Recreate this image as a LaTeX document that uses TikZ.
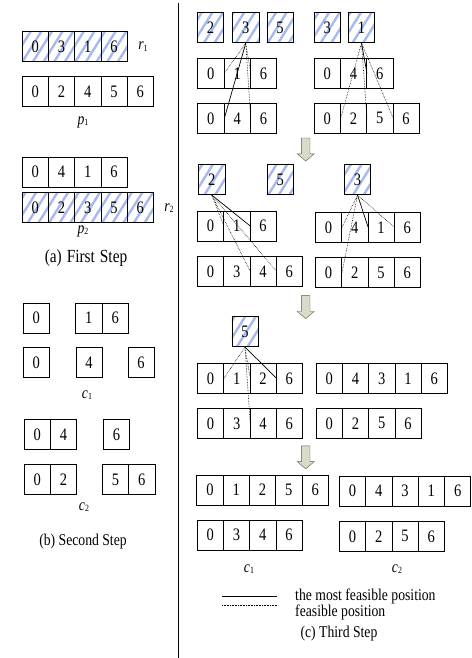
\documentclass[tikz,border=0pt]{standalone}
\usepackage{fontspec}
\setmainfont{Liberation Serif}[FakeStretch=0.83]
\usetikzlibrary{patterns.meta,shapes.arrows}
\definecolor{stripe}{RGB}{165,185,240}
\definecolor{arrowfill}{RGB}{216,220,198}
\definecolor{arrowline}{RGB}{90,95,75}
\newcommand{\lbl}[2]{\textit{#1}\raisebox{-0.2ex}{\fontsize{9.5}{9.5}\selectfont #2}}
\begin{document}
\begin{tikzpicture}[x=1pt,y=-1pt]
        \tikzstyle{cell} = [draw,line width=0.7pt,minimum width=26.3pt,minimum height=30pt,inner sep=0pt,font=\fontsize{17.5}{18}\selectfont]
        \tikzstyle{hatch} = [pattern={Lines[angle=58,distance=9pt,line width=2.4pt]},pattern color=stripe]
        \tikzstyle{best} = [line width=0.7pt]
        \tikzstyle{maybe} = [densely dotted,line width=0.6pt]
        \tikzstyle{down} = [single arrow,draw=arrowline,fill=arrowfill,shape border rotate=270,minimum height=23pt,inner sep=4.1pt,single arrow head extend=4.2pt,single arrow tip angle=100]
        \tikzstyle{txt} = [font=\fontsize{16.5}{18}\selectfont,inner sep=0pt]

        \useasboundingbox (0,0) rectangle (471,658);

        % (a) first step
        \foreach \v [count=\i] in {0,3,1,6} \node[cell,hatch] (ra-\i) at ({22+26.3*(\i-.5)},46.7) {\v};
        \foreach \v [count=\i] in {0,2,4,5,6} \node[cell] (pa-\i) at ({22+26.3*(\i-.5)},91.7) {\v};
        \foreach \v [count=\i] in {0,4,1,6} \node[cell] (qa-\i) at ({22+26.3*(\i-.5)},172) {\v};
        \foreach \v [count=\i] in {0,2,3,5,6} \node[cell,hatch] (rb-\i) at ({22+26.3*(\i-.5)},207.5) {\v};
        \node[txt] (lr1) at (143,46.7) {\lbl{r}{1}};
        \node[txt] (lp1) at (83,122) {\lbl{p}{1}};
        \node[txt] (lr2) at (169,208) {\lbl{r}{2}};
        \node[txt] (lp2) at (83,231) {\lbl{p}{2}};
        \node[txt,font=\fontsize{18.5}{20}\selectfont] (capa) at (86,258) {(a)\hspace{5pt}First\hspace{5pt}Step};

        % (b) second step
        \node[cell] (ca-1) at (36.3,318) {0};
        \foreach \v [count=\i] in {1,6} \node[cell] (cb-\i) at ({75.7+26.3*(\i-.5)},318) {\v};
        \node[cell] (cc-1) at (36.3,362.3) {0};
        \node[cell] (cd-1) at (89,362.3) {4};
        \node[cell] (ce-1) at (141,362.3) {6};
        \node[txt] (lc1) at (87,395) {\lbl{c}{1}};
        \foreach \v [count=\i] in {0,4} \node[cell] (da-\i) at ({24+26.3*(\i-.5)},434.7) {\v};
        \node[cell] (db-1) at (116.5,434.7) {6};
        \foreach \v [count=\i] in {0,2} \node[cell] (dc-\i) at ({24+26.3*(\i-.5)},479.7) {\v};
        \foreach \v [count=\i] in {5,6} \node[cell] (dd-\i) at ({102.3+26.3*(\i-.5)},479.7) {\v};
        \node[txt] (lc2) at (84,507) {\lbl{c}{2}};
        \node[txt] (capb) at (83,542) {(b) Second Step};

        \draw[line width=0.7pt] (178,3) -- (178,658);

        % (c) third step
        \node[cell,hatch] (ha-1) at (210.5,27.7) {2};
        \node[cell,hatch] (ha-2) at (245.8,27.7) {3};
        \node[cell,hatch] (ha-3) at (280,27.7) {5};
        \node[cell,hatch] (ha-4) at (327.3,27.7) {3};
        \node[cell,hatch] (ha-5) at (361.5,27.7) {1};
        \foreach \v [count=\i] in {0,1,6} \node[cell] (ea-\i) at ({197.7+26.3*(\i-.5)},73.3) {\v};
        \foreach \v [count=\i] in {0,4,6} \node[cell] (eb-\i) at ({197.7+26.3*(\i-.5)},118.3) {\v};
        \foreach \v [count=\i] in {0,4,6} \node[cell] (fa-\i) at ({314+26.3*(\i-.5)},73.3) {\v};
        \foreach \v [count=\i] in {0,2,5,6} \node[cell] (fb-\i) at ({314+26.3*(\i-.5)},118.3) {\v};

        \draw[maybe] (ha-2.south) -- (ea-1.east) (ha-2.south) -- (ea-2.east) (ha-2.south) -- (eb-2.east);
        \draw[best] (ha-2.south) -- (eb-1.east);
        \draw[maybe] (ha-5.south) -- (fb-1.east) (ha-5.south) -- (fb-2.east) (ha-5.south) -- (fb-3.east);
        \draw[best] (ha-5.south) -- (fa-2.east);

        \node[down] (ar1) at (305.7,147.7) {};

        \node[cell,hatch] (hb-1) at (211.7,179.7) {2};
        \node[cell,hatch] (hb-2) at (280.3,179.7) {5};
        \node[cell,hatch] (hb-3) at (357.5,179.7) {3};
        \foreach \v [count=\i] in {0,1,6} \node[cell] (ga-\i) at ({197.3+26.3*(\i-.5)},226) {\v};
        \foreach \v [count=\i] in {0,3,4,6} \node[cell] (gb-\i) at ({197.3+26.3*(\i-.5)},271.3) {\v};
        \foreach \v [count=\i] in {0,4,1,6} \node[cell] (ia-\i) at ({315.3+26.3*(\i-.5)},227.5) {\v};
        \foreach \v [count=\i] in {0,2,5,6} \node[cell] (ib-\i) at ({315.3+26.3*(\i-.5)},272.8) {\v};

        \draw[maybe] (hb-1.south) -- (ga-1.east) (hb-1.south) -- (gb-2.east) (hb-1.south) -- (gb-3.east);
        \draw[best] (hb-1.south) -- (ga-2.east);
        \draw[maybe] (hb-3.south) -- (ia-1.east) (hb-3.south) -- (ib-1.east) (hb-3.south) -- (ia-3.east);
        \draw[best] (hb-3.south) -- (ia-2.east);

        \node[down] (ar2) at (305.7,305.3) {};

        \node[cell,hatch] (hc-1) at (245,331.8) {5};
        \foreach \v [count=\i] in {0,1,2,6} \node[cell] (ja-\i) at ({197.3+26.3*(\i-.5)},378.3) {\v};
        \foreach \v [count=\i] in {0,3,4,6} \node[cell] (jb-\i) at ({197.3+26.3*(\i-.5)},423.3) {\v};
        \foreach \v [count=\i] in {0,4,3,1,6} \node[cell] (ka-\i) at ({316+26.3*(\i-.5)},378.3) {\v};
        \foreach \v [count=\i] in {0,2,5,6} \node[cell] (kb-\i) at ({316+26.3*(\i-.5)},423.3) {\v};

        \draw[maybe] (hc-1.south) -- (ja-1.east) (hc-1.south) -- (ja-2.east) (hc-1.south) -- (jb-2.east);
        \draw[best] (hc-1.south) -- (ja-3.east);

        \node[down] (ar3) at (305.7,455.5) {};

        \foreach \v [count=\i] in {0,1,2,5,6} \node[cell] (ma-\i) at ({196.8+26.3*(\i-.5)},490) {\v};
        \foreach \v [count=\i] in {0,3,4,6} \node[cell] (mb-\i) at ({197+26.3*(\i-.5)},535) {\v};
        \foreach \v [count=\i] in {0,4,3,1,6} \node[cell] (na-\i) at ({339.3+26.3*(\i-.5)},491) {\v};
        \foreach \v [count=\i] in {0,2,5,6} \node[cell] (nb-\i) at ({339.3+26.3*(\i-.5)},536.3) {\v};
        \node[txt] (lc3) at (249,569) {\lbl{c}{1}};
        \node[txt] (lc4) at (397,569) {\lbl{c}{2}};

        % legend
        \coordinate (ls1) at (222,596);
        \coordinate (ls2) at (277,596);
        \coordinate (lm1) at (222,605);
        \coordinate (lm2) at (277,605);
        \draw[best] (ls1) -- (ls2);
        \draw[maybe] (lm1) -- (lm2);
        \node[txt,anchor=west] (lt1) at (295,596) {the most feasible position};
        \node[txt,anchor=west] (lt2) at (295,612) {feasible position};
        \node[txt] (capc) at (339,634) {(c) Third Step};
    \end{tikzpicture}
\end{document}
